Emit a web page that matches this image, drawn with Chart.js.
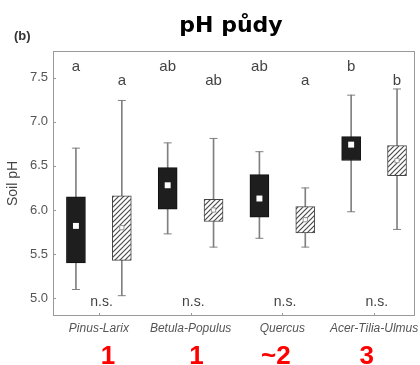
<!DOCTYPE html>
<html lang="cs">
<head>
<meta charset="UTF-8">
<title>pH půdy</title>
<script src="https://cdn.jsdelivr.net/npm/chart.js"></script>
<style>
  html, body { margin: 0; padding: 0; background: #fff; }
  #wrap { width: 420px; height: 365px; }
</style>
</head>
<body>
<div id="wrap"><canvas id="mychart" width="420" height="365"></canvas></div>
<script>
// data
const categories = ['Pinus-Larix', 'Betula-Populus', 'Quercus', 'Acer-Tilia-Ulmus'];
const yTicks = [5.0, 5.5, 6.0, 6.5, 7.0, 7.5];

const blackMin = [5.10, 5.73, 5.68, 5.98];
const blackQ1  = [5.40, 6.01, 5.92, 6.56];
const blackMid = [5.82, 6.28, 6.13, 6.74];
const blackQ3  = [6.15, 6.48, 6.40, 6.83];
const blackMax = [6.70, 6.76, 6.66, 7.30];

const hatchMin = [5.03, 5.58, 5.58, 5.78];
const hatchQ1  = [5.43, 5.87, 5.74, 6.39];
const hatchMid = [5.80, 6.00, 5.89, 6.56];
const hatchQ3  = [6.16, 6.12, 6.04, 6.73];
const hatchMax = [7.24, 6.81, 6.25, 7.37];

const blackLetters = ['a', 'ab', 'ab', 'b'];
const hatchLetters = ['a', 'ab', 'a', 'b'];
const nsLabels = ['n.s.', 'n.s.', 'n.s.', 'n.s.'];
const scores = ['1', '1', '~2', '3'];

// hatch pattern
function makeHatch() {
    const c = document.createElement('canvas');
    c.width = 5; c.height = 5;
    const g = c.getContext('2d');
    g.fillStyle = '#fff';
    g.fillRect(0, 0, 5, 5);
    g.strokeStyle = '#4a4a4a';
    g.lineWidth = 1.2;
    g.beginPath();
    g.moveTo(0, 5); g.lineTo(5, 0);
    g.moveTo(-1, 1); g.lineTo(1, -1);
    g.moveTo(4, 6); g.lineTo(6, 4);
    g.stroke();
    return g.createPattern(c, 'repeat');
}
const hatch = makeHatch();

const off = 0.25;
const xs = (arr, d) => arr.map((v, i) => ({ x: i + 1 + d, y: v }));
const ranges = (lo, hi, d) => lo.map((v, i) => ({ x: i + 1 + d, y: [v, hi[i]] }));

const whiskerColor = '#808080';

const overlay = {
    id: 'overlay',
    beforeDatasetsDraw(chart) {
        const { ctx, chartArea: a } = chart;
        ctx.save();
        ctx.strokeStyle = '#999';
        ctx.lineWidth = 1;
        ctx.strokeRect(a.left + 0.5, a.top + 0.5, a.right - a.left - 1, a.bottom - a.top - 1);
        // inward ticks
        const ys = chart.scales.y, xsc = chart.scales.x;
        ctx.beginPath();
        yTicks.forEach(v => {
            const py = Math.round(ys.getPixelForValue(v)) + 0.5;
            ctx.moveTo(a.left, py); ctx.lineTo(a.left + 3, py);
        });
        categories.forEach((c, i) => {
            const px = Math.round(xsc.getPixelForValue(i + 1)) + 0.5;
            ctx.moveTo(px, a.bottom); ctx.lineTo(px, a.bottom - 3);
        });
        ctx.stroke();
        ctx.restore();
    },
    afterDraw(chart) {
        const { ctx } = chart;
        const ys = chart.scales.y, xsc = chart.scales.x;
        ctx.save();
        ctx.textAlign = 'center';
        ctx.textBaseline = 'middle';
        ctx.fillStyle = '#444';
        ctx.font = '15px "Liberation Sans", Arial, sans-serif';
        blackLetters.forEach((t, i) => {
            ctx.fillText(t, xsc.getPixelForValue(i + 1 - off), ys.getPixelForValue(7.62));
        });
        hatchLetters.forEach((t, i) => {
            ctx.fillText(t, xsc.getPixelForValue(i + 1 + off), ys.getPixelForValue(7.46));
        });
        ctx.font = '14px "Liberation Sans", Arial, sans-serif';
        nsLabels.forEach((t, i) => {
            ctx.fillText(t, xsc.getPixelForValue(i + 1.03), ys.getPixelForValue(4.955));
        });

        // title and panel letter
        ctx.fillStyle = '#000';
        ctx.textBaseline = 'alphabetic';
        ctx.font = 'bold 22px "DejaVu Sans", sans-serif';
        ctx.fillText('pH půdy', 231, 32);
        ctx.textAlign = 'left';
        ctx.fillStyle = '#333';
        ctx.font = 'bold 13px "Liberation Sans", Arial, sans-serif';
        ctx.fillText('(b)', 14, 40);

        // red scores under the categories
        const scoreShift = [0.1, 0.065, -0.07, -0.08];
        ctx.textAlign = 'center';
        ctx.fillStyle = '#f00';
        ctx.font = 'bold 26px "Liberation Sans", Arial, sans-serif';
        scores.forEach((t, i) => {
            ctx.fillText(t, xsc.getPixelForValue(i + 1 + scoreShift[i]), 364);
        });
        ctx.restore();
    }
};

new Chart(document.getElementById('mychart'), {
    type: 'bar',
    data: {
        datasets: [
            { type: 'bar', data: ranges(blackMin, blackMax, -off), barThickness: 1, backgroundColor: whiskerColor, borderWidth: 0, grouped: false, order: 5 },
            { type: 'bar', data: ranges(hatchMin, hatchMax, off), barThickness: 1, backgroundColor: whiskerColor, borderWidth: 0, grouped: false, order: 5 },
            { type: 'scatter', data: xs(blackMin, -off).concat(xs(blackMax, -off)), pointStyle: 'line', radius: 4, borderColor: whiskerColor, borderWidth: 1, order: 4 },
            { type: 'scatter', data: xs(hatchMin, off).concat(xs(hatchMax, off)), pointStyle: 'line', radius: 4, borderColor: whiskerColor, borderWidth: 1, order: 4 },
            { type: 'bar', data: ranges(blackQ1, blackQ3, -off), barThickness: 19, backgroundColor: '#1e1e1e', borderColor: '#111', borderWidth: 1, borderSkipped: false, grouped: false, order: 3 },
            { type: 'bar', data: ranges(hatchQ1, hatchQ3, off), barThickness: 19, backgroundColor: hatch, borderColor: '#444', borderWidth: 1, borderSkipped: false, grouped: false, order: 3 },
            { type: 'scatter', data: xs(blackMid, -off), pointStyle: 'rect', radius: 4.2, backgroundColor: '#fff', borderWidth: 0, order: 1 },
            { type: 'scatter', data: xs(hatchMid, off), pointStyle: 'rect', radius: 3, backgroundColor: '#fff', borderColor: '#999', borderWidth: 1, order: 1 }
        ]
    },
    options: {
        responsive: false,
        animation: false,
        events: [],
        layout: { padding: { top: 51, left: 5, right: 4, bottom: 0 } },
        plugins: { legend: { display: false }, tooltip: { enabled: false } },
        scales: {
            x: {
                type: 'linear',
                offset: false,
                min: 0.5,
                max: 4.446,
                afterFit: s => { s.height = 49; s.paddingLeft = 0; s.paddingRight = 0; },
                afterBuildTicks: s => { s.ticks = categories.map((c, i) => ({ value: i + 1 })); },
                grid: { display: false, drawTicks: false },
                border: { display: false },
                ticks: {
                    autoSkip: false,
                    maxRotation: 0,
                    padding: 5,
                    color: '#555',
                    font: { family: '"Liberation Sans", Arial, sans-serif', size: 12, style: 'italic' },
                    callback: v => categories[v - 1]
                }
            },
            y: {
                min: 4.8,
                max: 7.8,
                afterFit: s => { s.width = 48; s.paddingTop = 0; s.paddingBottom = 0; },
                afterBuildTicks: s => { s.ticks = yTicks.map(v => ({ value: v })); },
                grid: { display: false, drawTicks: false },
                border: { display: false },
                ticks: {
                    padding: 5,
                    color: '#555',
                    font: { family: '"Liberation Sans", Arial, sans-serif', size: 13 },
                    callback: v => v.toFixed(1)
                },
                title: {
                    display: true,
                    text: 'Soil pH',
                    color: '#444',
                    padding: 0,
                    font: { family: '"Liberation Sans", Arial, sans-serif', size: 14 }
                }
            }
        }
    },
    plugins: [overlay]
});
</script>
</body>
</html>
